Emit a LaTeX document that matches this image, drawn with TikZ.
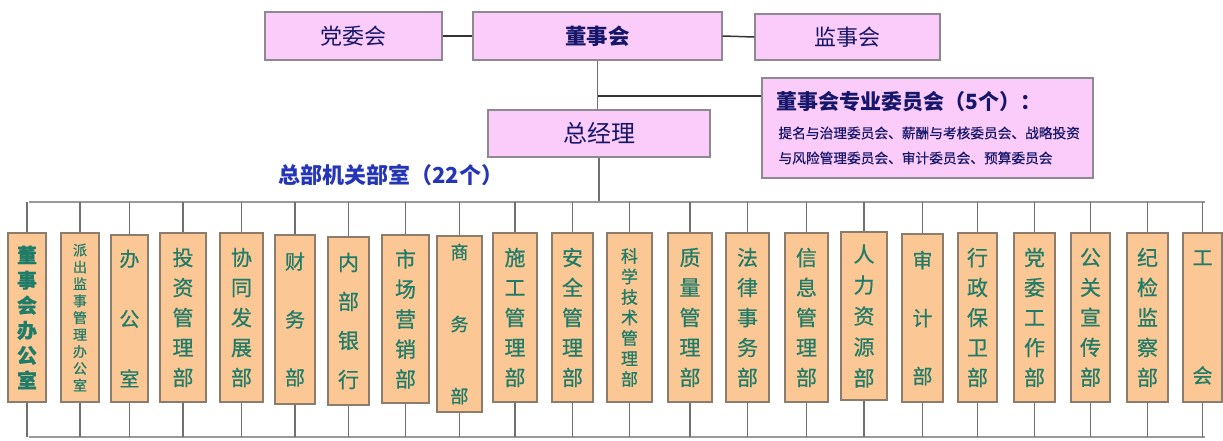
\documentclass[tikz,border=0pt]{standalone}
\usepackage{fontspec}
\setmainfont{Noto Sans CJK SC}
\newfontfamily\deptfont{Noto Sans CJK SC}[FakeBold=0.6]
\definecolor{pinkfill}{HTML}{FBCBFA}
\definecolor{pinkdraw}{HTML}{8E8890}
\definecolor{deptfill}{HTML}{FBC794}
\definecolor{deptdraw}{HTML}{8C7C6C}
\definecolor{depttext}{HTML}{1E7C68}
\definecolor{navy}{HTML}{16166A}
\definecolor{hdrblue}{HTML}{2435B8}
\definecolor{busgray}{HTML}{9A9A9A}
\definecolor{stubgray}{HTML}{707070}
\tikzset{
  topbox/.style={draw=pinkdraw, fill=pinkfill, line width=1.2pt, inner sep=0pt, text=navy},
  dbox/.style={draw=deptdraw, fill=deptfill, line width=1.2pt, inner sep=0pt, align=center, text=depttext},
  topline/.style={draw=black!80, line width=1.5pt},
  busline/.style={draw=busgray, line width=1.5pt},
  stubline/.style={draw=stubgray, line width=1.2pt},
}
% #1 name, #2 x1, #3 x2, #4 y1, #5 y2, #6 font size, #7 baselineskip, #8 text
\newcommand\deptbox[8]{%
  \node[dbox, minimum width={(#3-#2)*1pt}, minimum height={(#5-#4)*1pt},
        font=\deptfont\fontsize{#6}{#7}\selectfont] (#1) at ({(#2+#3)/2},{(#4+#5)/2}) {#8};
  \draw[stubline] (#1.north) -- (#1.north |- tbL);
  \draw[stubline] (#1.south) -- (#1.south |- bbL);
}
\begin{document}
\begin{tikzpicture}[x=1pt,y=-1pt]
\useasboundingbox (0,0) rectangle (1223,441);
% top level
\node[topbox, minimum width=177pt, minimum height=48pt, font=\fontsize{22}{26}\selectfont] (dwh) at (353.5,36) {党委会};
\node[topbox, minimum width=249pt, minimum height=48pt, font=\fontsize{21.5}{26}\selectfont\bfseries] (dsh) at (597.5,36) {董事会};
\node[topbox, minimum width=185pt, minimum height=46pt, font=\fontsize{22}{26}\selectfont] (jsh) at (847.5,37) {监事会};
\node[topbox, minimum width=222pt, minimum height=47pt, font=\fontsize{24}{28}\selectfont] (zjl) at (599,133.5) {总经理};
\node[topbox, minimum width=331pt, minimum height=100pt] (zwh) at (927.5,128) {};
\node[anchor=west, text=navy, font=\fontsize{21}{24}\selectfont\bfseries] (ct) at (773,102) {董事会专业委员会（5个）：};
\node[anchor=west, text=navy, font=\deptfont\fontsize{13.7}{16}\selectfont] (cl1) at (775,133) {提名与治理委员会、薪酬与考核委员会、战略投资};
\node[anchor=west, text=navy, font=\deptfont\fontsize{13.7}{16}\selectfont] (cl2) at (775,158) {与风险管理委员会、审计委员会、预算委员会};
\node[anchor=west, text=hdrblue, font=\fontsize{22}{26}\selectfont\bfseries] (hdr) at (275,175) {总部机关部室（22个）};

\draw[topline] (dwh.east) -- (dsh.west);
\draw[topline] (dsh.east) -- (jsh.west);
\draw[stubline] (dsh.south) -- (dsh.south |- zjl.north);
\coordinate (br) at (597.5,96);
\draw[topline] (br) -- (br -| zwh.west);

% buses
\coordinate (tbL) at (29,202);
\coordinate (tbR) at (1205,202);
\coordinate (bbL) at (29,437);
\coordinate (bbR) at (1205,437);
\draw[stubline] (zjl.south) -- (zjl.south |- tbL);
\draw[busline] (tbL) -- (tbR);
\draw[busline] (bbL) -- (bbR);

% departments
\deptbox{d1}{8}{46}{233}{402}{20}{25}{\bfseries 董\\\bfseries 事\\\bfseries 会\\\bfseries 办\\\bfseries 公\\\bfseries 室}
\deptbox{d2}{61}{99}{233}{402}{14}{16.9}{派\\出\\监\\事\\管\\理\\办\\公\\室}
\deptbox{d3}{111}{148}{235}{402}{20}{60}{办\\公\\室}
\deptbox{d4}{160}{206}{233}{402}{21}{30}{投\\资\\管\\理\\部}
\deptbox{d5}{220}{263}{233}{402}{21}{30}{协\\同\\发\\展\\部}
\deptbox{d6}{275}{315}{235}{404}{20}{58}{财\\务\\部}
\deptbox{d7}{328}{369}{237}{405}{21}{39}{内\\部\\银\\行}
\deptbox{d8}{382}{429}{235}{403}{21}{30}{市\\场\\营\\销\\部}
\deptbox{d9}{437}{482}{236}{412}{18}{72}{商\\务\\部}
\deptbox{d10}{493}{537}{233}{402}{21}{30}{施\\工\\管\\理\\部}
\deptbox{d11}{552}{593}{233}{402}{21}{30}{安\\全\\管\\理\\部}
\deptbox{d12}{607}{652}{233}{402}{17}{20.5}{科\\学\\技\\术\\管\\理\\部}
\deptbox{d13}{668}{712}{233}{402}{21}{30}{质\\量\\管\\理\\部}
\deptbox{d14}{726}{769}{233}{402}{21}{30}{法\\律\\事\\务\\部}
\deptbox{d15}{785}{828}{233}{402}{21}{30}{信\\息\\管\\理\\部}
\deptbox{d16}{841}{887}{232}{400}{21}{31}{人\\力\\资\\源\\部}
\deptbox{d17}{902}{943}{234}{402}{20}{58}{审\\计\\部}
\deptbox{d18}{958}{997}{233}{402}{21}{30}{行\\政\\保\\卫\\部}
\deptbox{d19}{1014}{1055}{233}{402}{21}{30}{党\\委\\工\\作\\部}
\deptbox{d20}{1071}{1110}{233}{402}{21}{30}{公\\关\\宣\\传\\部}
\deptbox{d21}{1127}{1168}{233}{402}{21}{30}{纪\\检\\监\\察\\部}
\deptbox{d22}{1183}{1222}{233}{402}{20}{118}{工\\会}
\end{tikzpicture}
\end{document}
